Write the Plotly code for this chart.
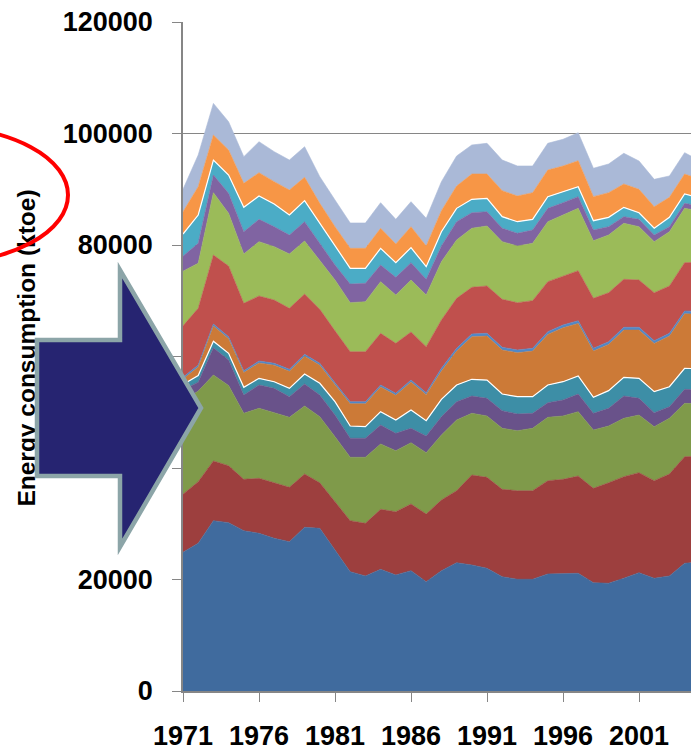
import numpy as np
import plotly.graph_objects as go

years = list(range(1971, 2006))

# Cumulative stack levels (top edge of each band, ktoe)
lvl_blue = [24900, 26500, 30550, 30190, 28750, 28290, 27390, 26780, 29360, 29180, 25290, 21400, 20630, 21830, 20810,
            21580, 19610, 21580, 23010, 22600, 22010, 20500, 20040, 20040, 20990, 20990, 21110, 19430, 19320, 20220,
            21220, 20220, 20630, 22910, 23100]
lvl_darkred = [35300, 37540, 41260, 40410, 37970, 38150, 37360, 36540, 38920, 37360, 33950, 30550, 30080, 32590, 32160,
               33540, 31750, 34260, 35930, 38740, 38330, 36180, 35930, 35930, 37720, 37970, 38560, 36360, 37360, 38440,
               39160, 37720, 38920, 42030, 42100]
lvl_olive = [52000, 53800, 56680, 54800, 49810, 50710, 49920, 49090, 51120, 49200, 45610, 41920, 41920, 44300, 43100,
             44540, 42740, 45920, 48610, 49810, 49330, 47120, 46690, 47120, 49090, 49330, 50100, 46810, 47530, 48910,
             49500, 47410, 48910, 51600, 51500]
lvl_darkpurple = [54000, 55400, 61560, 59370, 53090, 54890, 54290, 52790, 55070, 53090, 49500, 45330, 45330, 47710, 46220,
                  47120, 45740, 49200, 51890, 52910, 52500, 50280, 49690, 49810, 51710, 52200, 53270, 49810, 50710, 52910,
                  52500, 49920, 50990, 54110, 54000]
lvl_teal = [55000, 56600, 62750, 60570, 54470, 56090, 55480, 54290, 56860, 55190, 51890, 47530, 47410, 50100, 48610,
            50400, 48480, 52320, 54890, 55910, 55780, 53270, 52790, 52790, 54890, 55480, 56500, 52670, 53870, 56270,
            56090, 53690, 54580, 57880, 57800]
lvl_darkorange = [55950, 58120, 65480, 63200, 57110, 58840, 58430, 57350, 60040, 58430, 54950, 51540, 51540, 54540, 53050,
                  55430, 53160, 57380, 60970, 63540, 63660, 61150, 60670, 60970, 63950, 65150, 65920, 60970, 62160, 64740,
                  64740, 62340, 63660, 67660, 67600]
lvl_lightblue = [56300, 58470, 65830, 63550, 57460, 59190, 58780, 57700, 60390, 58780, 55300, 51890, 51890, 54890, 53400,
                 55780, 53510, 57880, 61470, 64040, 64160, 61650, 61170, 61470, 64450, 65650, 66420, 61470, 62660, 65240,
                 65240, 62840, 64160, 68160, 68100]
lvl_red = [65500, 68640, 78200, 76230, 69540, 70850, 70130, 68640, 71210, 68460, 64600, 60860, 60860, 64160, 62370,
           64400, 61760, 66550, 70440, 72410, 72650, 70260, 69650, 70010, 73420, 74440, 75390, 70440, 71440, 73850,
           73720, 71440, 72650, 76830, 76900]
lvl_green = [75300, 76720, 89380, 85680, 78390, 80600, 79700, 78390, 80720, 77310, 73720, 69650, 69830, 73420, 71030,
             73720, 71030, 77010, 80900, 83000, 83410, 80600, 79820, 80300, 84180, 85380, 86580, 80770, 81790, 83890,
             83280, 80600, 82380, 86580, 86100]
lvl_purple = [78000, 80300, 92550, 89270, 82380, 84600, 83280, 81790, 84180, 80300, 76410, 73000, 73130, 76410, 74200,
              76830, 73850, 79820, 84180, 85790, 85970, 83000, 82100, 82690, 86580, 87590, 88670, 82690, 83280, 85080,
              84600, 81790, 83280, 87470, 87000]
lvl_cyan = [81970, 85380, 95240, 92550, 86760, 88790, 87350, 85380, 87950, 83890, 79700, 75820, 75820, 79400, 76830,
            79520, 76110, 82380, 86580, 88190, 88370, 85080, 84180, 84600, 88670, 89560, 90450, 84360, 84960, 86760,
            85790, 83000, 84960, 89150, 88500]
lvl_orange = [85970, 90450, 99730, 97040, 91060, 92970, 91360, 89860, 92140, 87470, 83280, 79400, 79400, 83000, 80180,
              83280, 79820, 86150, 90580, 92730, 92730, 89740, 88790, 89380, 93450, 94170, 95120, 88670, 89380, 90940,
              89990, 86870, 88550, 92730, 91800]
lvl_total = [90000, 96140, 105400, 102100, 95840, 98530, 96740, 95240, 97630, 92250, 88070, 83950, 83950, 87590, 84600,
             87770, 84790, 91360, 95960, 97940, 98240, 95240, 94170, 94170, 98240, 98960, 100140, 93760, 94530, 96450,
             95060, 91780, 92380, 96560, 95100]

levels = [lvl_blue, lvl_darkred, lvl_olive, lvl_darkpurple, lvl_teal, lvl_darkorange, lvl_lightblue,
          lvl_red, lvl_green, lvl_purple, lvl_cyan, lvl_orange, lvl_total]
colors = ['#406B9E', '#9D3F3E', '#7F9A4A', '#69528A', '#3D8EA6', '#CC7A37', '#5088C8',
          '#C0504D', '#9BBB59', '#8064A2', '#4BACC6', '#F79646', '#AAB9D7']
white_top = {4, 10}  # bands with a thin white edge on top

fig = go.Figure()
prev = np.zeros(len(years))
for i, (lv, col) in enumerate(zip(levels, colors)):
    arr = np.array(lv, dtype=float)
    vals = arr - prev
    prev = arr
    lc = 'white' if i in white_top else col
    lw = 1.2 if i in white_top else 0.6
    fig.add_trace(go.Scatter(x=years, y=vals, stackgroup='one', mode='lines',
                             line=dict(color=lc, width=lw), fillcolor=col,
                             showlegend=False, hoverinfo='x+y'))

W, H = 691, 752
L, R, T, B = 183, 0, 22, 61
pw, ph = W - L - R, H - T - B

def px(x):
    return (x - L) / pw

def py(y):
    return (H - B - y) / ph

# y-axis title as a label of an invisible shape (so the arrow can cover it)
shapes = [
    dict(type='rect', xref='paper', yref='paper', x0=px(4), x1=px(44), y0=py(514), y1=py(182),
         line=dict(width=0), fillcolor='rgba(0,0,0,0)', layer='above',
         label=dict(text='<b>Energy consumption (ktoe)</b>', textangle=-90, textposition='middle center',
                    font=dict(family='Liberation Sans', size=24.5, color='black'))),
]
arrow_pts = [(37, 340), (120, 340), (120, 270), (201, 408), (120, 547), (120, 476), (37, 476)]
path = 'M ' + ' L '.join(f'{px(a):.5f},{py(b):.5f}' for a, b in arrow_pts) + ' Z'
shapes.append(dict(type='path', xref='paper', yref='paper', path=path, fillcolor='#262471',
                   line=dict(color='#8CA5A8', width=4.5), layer='above'))
shapes.append(dict(type='circle', xref='paper', yref='paper', x0=px(-188), x1=px(68), y0=py(263), y1=py(127),
                   line=dict(color='#FF0000', width=4), fillcolor='rgba(0,0,0,0)', layer='above'))

tickfont = dict(family='Liberation Sans', size=27, color='black', weight='bold')
fig.update_layout(
    width=W, height=H, margin=dict(l=L, r=R, t=T, b=B, pad=0, autoexpand=False),
    paper_bgcolor='white', plot_bgcolor='white',
    shapes=shapes,
    xaxis=dict(range=[1971, 2004.42], tick0=1971, dtick=5, ticks='outside', ticklen=9, tickwidth=1.2,
               tickcolor='#868686', showline=True, linecolor='#868686', linewidth=1.5, showgrid=False,
               zeroline=False, tickfont=tickfont, ticklabelstandoff=11, automargin=False),
    yaxis=dict(range=[0, 120000], dtick=20000, tickformat='d', ticks='outside', ticklen=9, tickwidth=1.2,
               tickcolor='#868686', showline=True, linecolor='#868686', linewidth=1.5,
               showgrid=True, gridcolor='#868686', gridwidth=1, zeroline=False,
               tickfont=tickfont, ticklabelstandoff=14, automargin=False),
)

fig.write_html('out.html', config={'displayModeBar': False},
               post_script="document.body.style.margin='0';document.body.style.overflow='hidden';")
